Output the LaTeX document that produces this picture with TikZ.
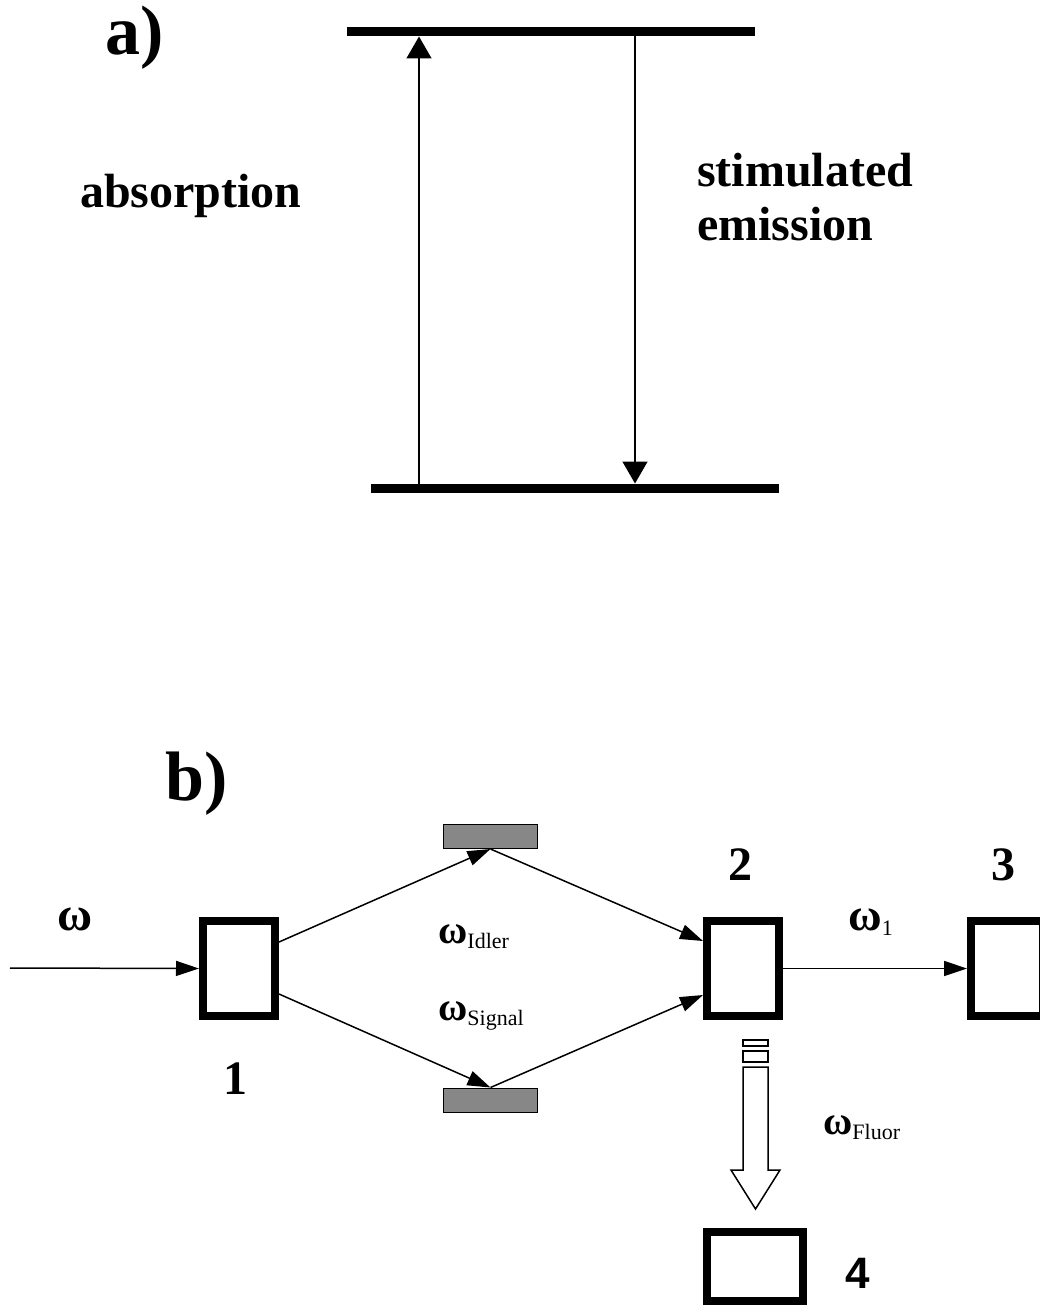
\documentclass[tikz,border=0pt]{standalone}
\usepackage{fontspec}
\setmainfont{Liberation Serif}
\newfontfamily\arialf{Liberation Sans}
\usetikzlibrary{arrows.meta}
\newcommand{\subtxt}[1]{\raisebox{-5pt}{\mdseries\fontsize{22}{22}\selectfont #1}}
\begin{document}
\begin{tikzpicture}[x=1pt,y=-1pt,
  level/.style={line width=9pt},
  trans/.style={line width=1.5pt,-{Triangle[length=22pt,width=25pt]}},
  beam/.style={line width=1.5pt,-{Triangle[length=23pt,width=15pt]}},
  box/.style={draw,line width=8pt,minimum width=72pt,minimum height=95pt,inner sep=0pt},
  mirror/.style={draw,fill=black!47,line width=1pt,minimum width=94pt,minimum height=24pt,inner sep=0pt},
  hollow/.style={draw,line width=1.5pt,fill=white},
  big/.style={font=\bfseries\fontsize{48}{48}\selectfont,inner sep=0pt},
  huge/.style={font=\bfseries\fontsize{70}{70}\selectfont,inner sep=0pt},
  om/.style={font=\bfseries\fontsize{40}{40}\selectfont,inner sep=0pt,anchor=base west},
]
\useasboundingbox (0,0) rectangle (1040,1306);
\clip (0,0) rectangle (1040,1306);

% ---------- panel a ----------
\node[huge,anchor=base west] (la) at (105,55) {a)};
\coordinate (tl) at (347,32);
\coordinate (tr) at (755,32);
\coordinate (bl) at (371,488);
\coordinate (br) at (779,488);
\draw[level] (tl) -- (tr);
\draw[level] (bl) -- (br);
\coordinate (absB) at (419,484);
\coordinate (absT) at (419,36.5);
\coordinate (emT) at (635,36.5);
\coordinate (emB) at (635,483.5);
\draw[trans] (absB) -- (absT);
\draw[trans] (emT) -- (emB);
\node[big,anchor=base west] (tabs) at (80,207) {absorption};
\node[big,anchor=base west] (tstim) at (697,186) {stimulated};
\node[big,anchor=base west] (temis) at (697,240) {emission};

% ---------- panel b ----------
\node[huge,anchor=base west] (lb) at (165,800) {b)};
\node[box] (b1) at (239,968.5) {};
\node[box] (b2) at (743,968.5) {};
\node[box] (b3) at (1007,968.5) {};
\node[box,minimum width=96pt,minimum height=69pt] (b4) at (755,1266.5) {};
\node[mirror] (m1) at (490.5,836.5) {};
\node[mirror] (m2) at (490.5,1100) {};
\coordinate (in) at (10,968);

\draw[beam] (in) -- (b1.west);
\draw[beam] (b1.east |- 0,942) -- (m1.south);
\draw[beam] (b1.east |- 0,994) -- (m2.north);
\draw[beam] (m1.south) -- (b2.west |- 0,941);
\draw[beam] (m2.north) -- (b2.west |- 0,995);
\draw[beam] (b2.east) -- (b3.west);

% fluorescence hollow arrow
\draw[hollow] (743,1040) rectangle (768,1046);
\draw[hollow] (743,1051) rectangle (768,1062);
\draw[hollow,line join=miter] (743,1067) -- (743,1170) -- (731,1170) -- (755.5,1209) -- (780,1170) -- (768,1170) -- (768,1067) -- cycle;

% labels
\node[big,anchor=base west] (tw) at (57,930) {ω};
\node[om] (tidl) at (438,943) {ω\subtxt{Idler}};
\node[om] (tsig) at (438,1020) {ω\subtxt{Signal}};
\node[om,font=\bfseries\fontsize{46}{46}\selectfont] (tw1) at (848,930) {ω\subtxt{1}};
\node[om] (tflu) at (823,1134) {ω\subtxt{Fluor}};
\node[big,anchor=base] (n1) at (235.5,1094) {1};
\node[big,anchor=base] (n2) at (740,880) {2};
\node[big,anchor=base] (n3) at (1003,880) {3};
\node[big,anchor=base,font=\arialf\bfseries\fontsize{44}{44}\selectfont] (n4) at (858,1288) {4};
\end{tikzpicture}
\end{document}
